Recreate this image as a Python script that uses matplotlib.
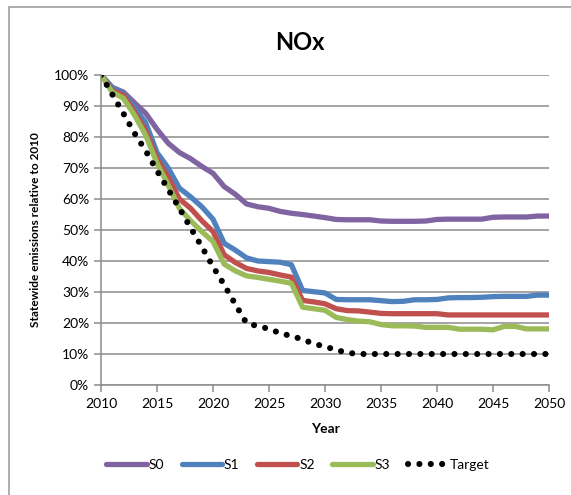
import numpy as np
import matplotlib
matplotlib.use('Agg')
import matplotlib.pyplot as plt
from matplotlib.patches import Rectangle
from matplotlib.ticker import PercentFormatter, MultipleLocator

plt.rcParams['font.family'] = ['Lato', 'DejaVu Sans']

years = list(range(2010, 2051))

s0 = [100, 96, 94.5, 91, 87.6, 82.5, 78, 75, 73, 70.5,
      68.3, 64, 61.5, 58.4, 57.5, 57, 56, 55.4, 55, 54.5,
      54, 53.4, 53.3, 53.3, 53.3, 52.9, 52.8, 52.8, 52.8, 52.9,
      53.4, 53.5, 53.5, 53.5, 53.5, 54.1, 54.2, 54.2, 54.2, 54.5, 54.5]
s1 = [100, 96, 94, 89.5, 84.5, 75, 70, 63.5, 60.7, 57.5,
      53.5, 45.7, 43.5, 41, 40, 39.8, 39.6, 38.8, 30.5, 30.1,
      29.7, 27.6, 27.5, 27.5, 27.5, 27.2, 26.9, 27.0, 27.5, 27.5,
      27.6, 28.1, 28.2, 28.2, 28.3, 28.5, 28.6, 28.6, 28.6, 29.0, 29.0]
s2 = [100, 95, 93.5, 88, 82, 73, 67, 60, 57, 53,
      49.5, 42, 39.5, 37.6, 36.8, 36.3, 35.5, 34.8, 27.3, 26.8,
      26.2, 24.6, 24.0, 23.9, 23.5, 23.1, 23.0, 23.0, 23.0, 23.0,
      23.0, 22.6, 22.6, 22.6, 22.6, 22.6, 22.6, 22.6, 22.6, 22.6, 22.6]
s3 = [100, 94.5, 92.5, 87, 80.5, 71.5, 64.5, 57, 53, 49.5,
      46.3, 39, 36.8, 35.2, 34.7, 34.1, 33.5, 32.8, 25.1, 24.6,
      24.1, 21.8, 21.1, 20.6, 20.4, 19.5, 19.1, 19.1, 19.0, 18.6,
      18.6, 18.6, 18.0, 18.0, 18.0, 17.8, 18.9, 18.9, 18.1, 18.1, 18.1]
target = [100, 93.8, 87.6, 81.2, 75.5, 69.1, 63.1, 57.0, 50.7, 44.6,
          38.2, 32.3, 26.0, 19.9, 19.0, 18.1, 16.7, 15.8, 14.7, 13.3,
          12.4, 11.3, 10.4, 10, 10, 10, 10, 10, 10, 10,
          10, 10, 10, 10, 10, 10, 10, 10, 10, 10, 10]

fig = plt.figure(figsize=(5.71, 4.95), dpi=100)
ax = fig.add_axes([101/571, 1 - 385/495, 448/571, 310/495])

# chart area border
fig.patches.append(Rectangle((9/571, -0.05), 1.05, 1 - 7/495 + 0.05,
                             transform=fig.transFigure, fill=False,
                             edgecolor='#a0a0a0', linewidth=1.2))

lw = 3.8
ax.plot(years, s0, color='#8064A2', lw=lw, label='S0', solid_capstyle='round')
ax.plot(years, s1, color='#4F81BD', lw=lw, label='S1', solid_capstyle='round')
ax.plot(years, s2, color='#C0504D', lw=lw, label='S2', solid_capstyle='round')
ax.plot(years, s3, color='#9BBB59', lw=lw, label='S3', solid_capstyle='round')
ax.plot(years, target, color='black', lw=4.4, linestyle=(0, (0.01, 1.85)),
        dash_capstyle='round', label='Target')

ax.set_xlim(2010, 2050)
ax.set_ylim(0, 100)
ax.xaxis.set_major_locator(MultipleLocator(5))
ax.yaxis.set_major_locator(MultipleLocator(10))
ax.yaxis.set_major_formatter(PercentFormatter(decimals=0))
ax.grid(axis='y', color='#8c8c8c', linewidth=1.1)
ax.set_axisbelow(True)
for side in ['top', 'right']:
    ax.spines[side].set_visible(False)
for side in ['left', 'bottom']:
    ax.spines[side].set_color('#8c8c8c')
    ax.spines[side].set_linewidth(1.1)
ax.tick_params(axis='both', colors='#8c8c8c', length=5, width=1.1,
               labelsize=10, labelcolor='black')
ax.tick_params(axis='x', pad=4)

ax.set_xlabel('Year', fontsize=10, fontweight='bold', labelpad=10)
ax.set_ylabel('Statewide emissions relative to 2010', fontsize=8.6,
              fontweight='bold', labelpad=9)
fig.text(300/571, 1 - 42/495, 'NOx', ha='center', va='center',
         fontsize=17, fontweight='bold')

fig.legend(loc='center', bbox_to_anchor=(298/571, 1 - 465/495), ncol=5,
           frameon=False, fontsize=10, handlelength=2.9, handletextpad=0.15,
           columnspacing=1.25)

fig.savefig('out.png', dpi=100)
